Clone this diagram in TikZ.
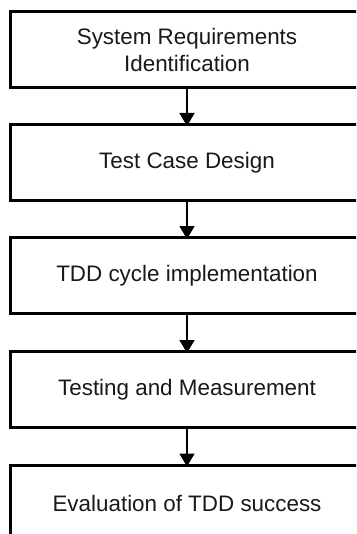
\documentclass[tikz,border=0pt]{standalone}
\usepackage{fontspec}
\setmainfont{Liberation Sans}
\usetikzlibrary{arrows.meta}
\begin{document}
\begin{tikzpicture}[x=1pt,y=1pt,
  stepbox/.style={draw=black, line width=3pt, fill=white, minimum width=354pt, minimum height=76pt, outer sep=0pt, inner sep=0pt, align=center, font=\fontsize{22.4}{26.5}\selectfont, text=black!90},
  flow/.style={line width=1.6pt, -{Triangle[length=13pt,width=15pt]}, shorten >=-1.5pt}]
\useasboundingbox (0,0) rectangle (356,-534);
\clip (0,0) rectangle (356,-534);
\node[stepbox] (a) at (187,-50) {System Requirements\\Identification};
\node[stepbox] (b) at (187,-162.5) {Test Case Design};
\node[stepbox] (c) at (187,-275.5) {TDD cycle implementation};
\node[stepbox] (d) at (187,-389.5) {Testing and Measurement};
\node[stepbox] (e) at (187,-503) {Evaluation of TDD success};
\draw[flow] (a.south) -- (b.north);
\draw[flow] (b.south) -- (c.north);
\draw[flow] (c.south) -- (d.north);
\draw[flow] (d.south) -- (e.north);
\end{tikzpicture}
\end{document}
